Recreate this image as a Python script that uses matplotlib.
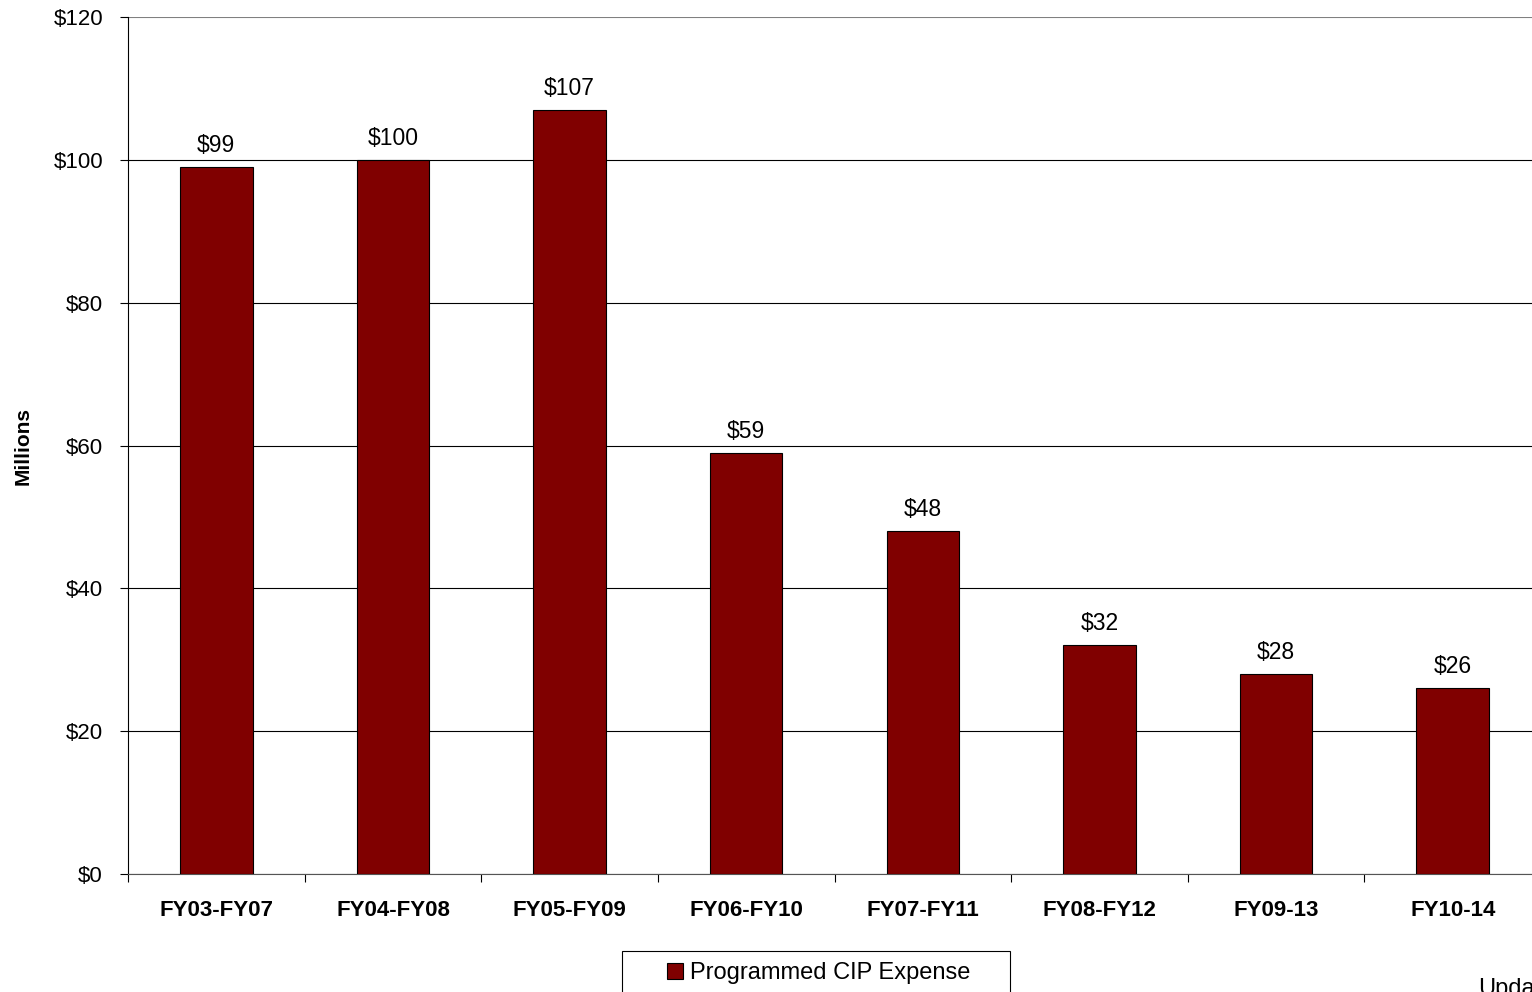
"""Programmed CIP expense by five-year window"""
import matplotlib
matplotlib.use("Agg")
import matplotlib.pyplot as plt
from matplotlib.patches import Rectangle
from matplotlib.ticker import FuncFormatter, FixedLocator

plt.rcParams['font.family'] = ['Liberation Sans', 'DejaVu Sans']

periods = ['FY03-FY07', 'FY04-FY08', 'FY05-FY09', 'FY06-FY10',
           'FY07-FY11', 'FY08-FY12', 'FY09-13', 'FY10-14']
expense = [99, 100, 107, 59, 48, 32, 28, 26]

fig = plt.figure(figsize=(15.32, 9.92), dpi=100)
ax = fig.add_axes([128 / 1532, 1 - 874 / 992, (1541 - 128) / 1532, (874 - 17) / 992])

x = list(range(len(periods)))
bars = ax.bar(x, expense, width=0.41, color='#800000', edgecolor='black',
              linewidth=0.8, label='Programmed CIP Expense', zorder=3)

ax.set_xlim(-0.5, len(periods) - 0.5)
ax.set_ylim(0, 120)
ax.set_yticks(range(0, 121, 20))
ax.yaxis.set_major_formatter(FuncFormatter(lambda v, p: f'${v:.0f}'))
ax.yaxis.grid(True, color='black', linewidth=0.8, zorder=0)
ax.set_axisbelow(True)
ax.get_ygridlines()[-1].set_color('gray')

ax.set_xticks(x)
ax.set_xticklabels(periods, fontsize=16, fontweight='bold')
ax.tick_params(axis='x', length=0, pad=19)
ax.xaxis.set_minor_locator(FixedLocator([i + 0.5 for i in range(-1, len(periods))]))
ax.tick_params(axis='x', which='minor', length=6, width=0.8, direction='out')
ax.tick_params(axis='y', labelsize=16, length=6, width=0.8, direction='out', pad=12)

for s in ['top', 'right']:
    ax.spines[s].set_visible(False)
ax.spines['left'].set_linewidth(0.8)
ax.spines['bottom'].set_linewidth(0.8)
ax.spines['bottom'].set_color('#555555')

for b, v in zip(bars, expense):
    ax.text(b.get_x() + b.get_width() / 2, v + 1.4, f'${v}', ha='center',
            va='bottom', fontsize=16.5)

fig.text(23 / 1532, 1 - 446 / 992, 'Millions', rotation=90, ha='center',
         va='center', fontsize=15, fontweight='bold')

# legend box runs off the bottom edge in the reference
fig.patches.append(Rectangle((622 / 1532, -0.02), (1010 - 622) / 1532,
                             0.02 + (992 - 951) / 992, transform=fig.transFigure,
                             facecolor='white', edgecolor='black', linewidth=0.8))
leg = fig.legend(handles=[bars], labels=['Programmed CIP Expense'],
                 loc='center left', bbox_to_anchor=(658 / 1532, 1 - 973 / 992),
                 fontsize=17, frameon=False,
                 handlelength=0.65, handleheight=0.65, handletextpad=0.3,
                 borderaxespad=0)

fig.text(1478 / 1532, -3 / 992, 'Updated', fontsize=17, ha='left', va='baseline')

fig.savefig('out.png', dpi=100)
